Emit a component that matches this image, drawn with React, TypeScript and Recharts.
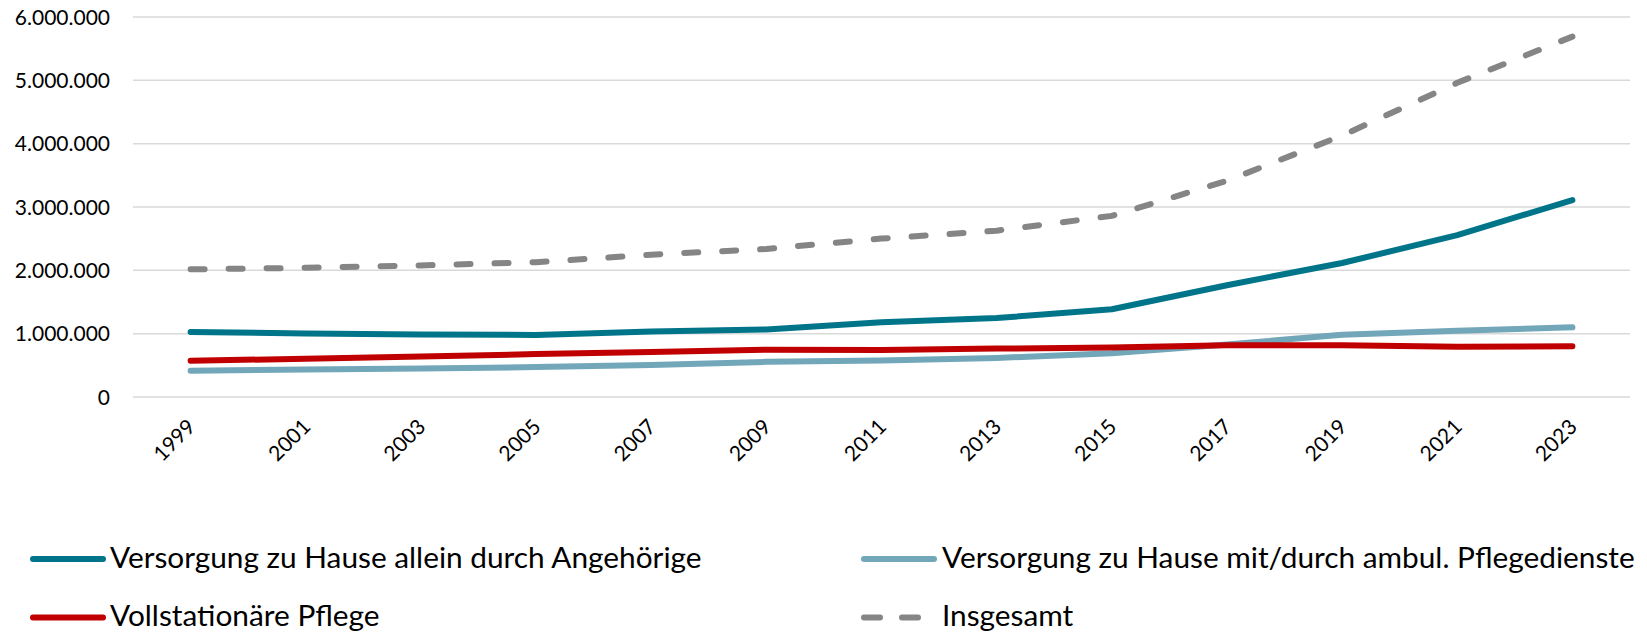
import React from 'react';
import { LineChart, Line, XAxis, YAxis, CartesianGrid, Legend } from 'recharts';

if (typeof document !== 'undefined') {
  document.body.style.margin = '0';
}

const years = ['1999', '2001', '2003', '2005', '2007', '2009', '2011', '2013', '2015', '2017', '2019', '2021', '2023'];
const angehoerige = [1028000, 1001000, 987000, 980000, 1033000, 1066000, 1182000, 1246000, 1385000, 1765000, 2116000, 2555000, 3110000];
const ambulant = [415000, 435000, 450000, 472000, 504000, 555000, 576000, 616000, 692000, 830000, 983000, 1047000, 1100000];
const vollstationaer = [573000, 604000, 640000, 677000, 709000, 748000, 743000, 764000, 783000, 818000, 818000, 793000, 800000];
const insgesamt = [2016000, 2040000, 2077000, 2129000, 2247000, 2338000, 2501000, 2626000, 2860000, 3414000, 4128000, 4961000, 5690000];
const yTicks = [0, 1000000, 2000000, 3000000, 4000000, 5000000, 6000000];

const seriesKeys = ['angehoerige', 'ambulant', 'vollstationaer', 'insgesamt'];
const seriesNames = [
  'Versorgung zu Hause allein durch Angehörige',
  'Versorgung zu Hause mit/durch ambul. Pflegedienste',
  'Vollstationäre Pflege',
  'Insgesamt',
];
const seriesColors = ['#00758A', '#72A6B9', '#C00000', '#858585'];
const seriesDash = [undefined, undefined, undefined, '14 24'];

const data = years.map((year, i) => ({
  year,
  angehoerige: angehoerige[i],
  ambulant: ambulant[i],
  vollstationaer: vollstationaer[i],
  insgesamt: insgesamt[i],
}));

const FONT = 'Lato, "Open Sans", sans-serif';

const fmt = (v: number) => String(v).replace(/\B(?=(\d{3})+(?!\d))/g, '.');

const YTick = (props: any) => {
  const { x, y, payload } = props;
  return (
    <text x={x} y={y} dy="0.36em" textAnchor="end" fontFamily={FONT} fontSize={21} fill="#000">
      {fmt(payload.value)}
    </text>
  );
};

const XTick = (props: any) => {
  const { x, y, payload } = props;
  const px = x + 6;
  const py = y + 31;
  return (
    <text
      x={px}
      y={py}
      textAnchor="end"
      transform={`rotate(-45, ${px}, ${py})`}
      fontFamily={FONT}
      fontSize={21}
      fill="#000"
    >
      {payload.value}
    </text>
  );
};

const legendSlots = [
  { lx: 33, tx: 110, y: 49 },
  { lx: 864, tx: 942, y: 49 },
  { lx: 33, tx: 110, y: 107.5 },
  { lx: 864, tx: 942, y: 107.5 },
];

const renderLegend = (props: any) => {
  const payload = props.payload || [];
  return (
    <svg width={1647} height={123} style={{ display: 'block' }}>
      {payload.map((entry: any, i: number) => {
        const idx = seriesKeys.indexOf(entry.dataKey);
        const k = idx >= 0 ? idx : i;
        const s = legendSlots[k];
        return (
          <g key={k}>
            <line
              x1={s.lx}
              x2={s.lx + 70}
              y1={s.y}
              y2={s.y}
              stroke={seriesColors[k]}
              strokeWidth={6}
              strokeLinecap="round"
              strokeDasharray={seriesDash[k] ? '16 22' : undefined}
            />
            <text x={s.tx} y={s.y + 8.5} fontFamily={FONT} fontSize={29.8} fill="#000">
              {entry.value}
            </text>
          </g>
        );
      })}
    </svg>
  );
};

export default function App() {
  return (
    <div style={{ width: 1647, height: 633, background: '#fff' }}>
      <LineChart width={1647} height={633} data={data} margin={{ top: 17, right: 17, left: 0, bottom: 176 }}>
        <CartesianGrid vertical={false} stroke="#D9D9D9" strokeWidth={1.5} />
        <XAxis
          dataKey="year"
          axisLine={false}
          tickLine={false}
          tickSize={0}
          tickMargin={0}
          height={60}
          interval={0}
          padding={{ left: 57.6, right: 57.6 }}
          tick={<XTick />}
        />
        <YAxis
          domain={[0, 6000000]}
          ticks={yTicks}
          axisLine={false}
          tickLine={false}
          tickSize={0}
          tickMargin={23}
          width={133}
          interval={0}
          tick={<YTick />}
        />
        <Legend
          verticalAlign="middle"
          layout="horizontal"
          content={renderLegend}
          wrapperStyle={{ top: 510, left: 0, width: 1647, height: 123 }}
        />
        {seriesKeys.map((key, i) => (
          <Line
            key={key}
            type="linear"
            dataKey={key}
            name={seriesNames[i]}
            stroke={seriesColors[i]}
            strokeWidth={6}
            strokeLinecap="round"
            strokeLinejoin="round"
            strokeDasharray={seriesDash[i]}
            dot={false}
            activeDot={false}
            isAnimationActive={false}
          />
        ))}
      </LineChart>
    </div>
  );
}
